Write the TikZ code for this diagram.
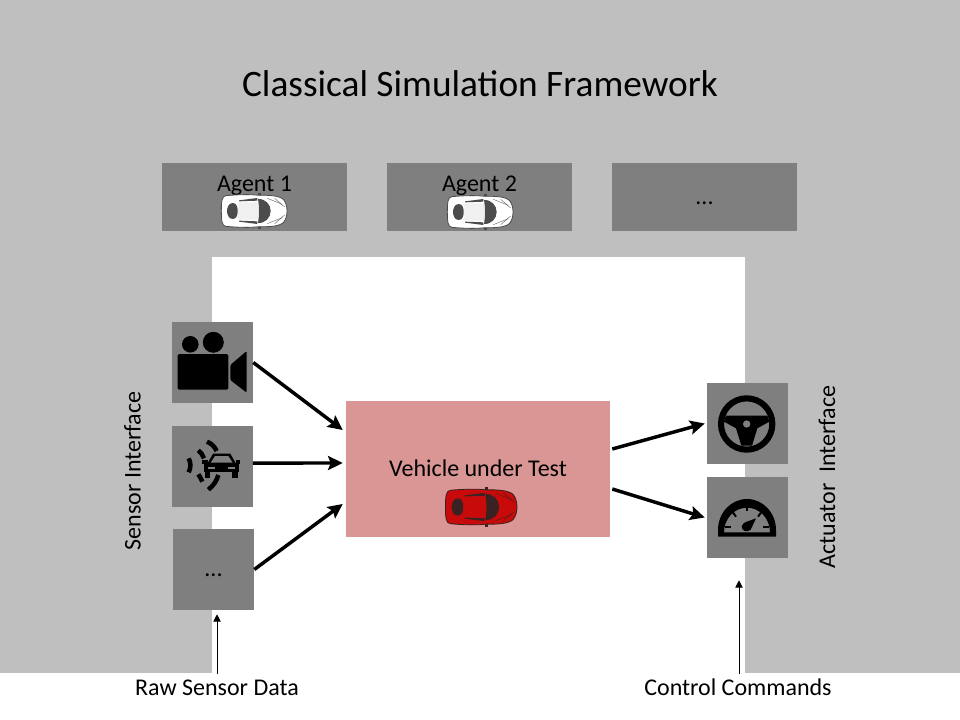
\documentclass[tikz,border=0pt]{standalone}
\usepackage{fontspec}
\setmainfont{Carlito}
\usetikzlibrary{arrows.meta}
\definecolor{bggray}{HTML}{BFBFBF}
\definecolor{boxgray}{HTML}{7F7F7F}
\definecolor{vutred}{HTML}{D99694}
\definecolor{cardark}{HTML}{3A2222}
\definecolor{carred}{HTML}{C80A0A}
\tikzset{
  sqbox/.style={fill=boxgray,minimum width=60.75pt,minimum height=60.75pt,inner sep=0pt},
  agentbox/.style={fill=boxgray,minimum width=138.75pt,minimum height=51pt,inner sep=0pt},
  lbl/.style={inner sep=0pt,font=\fontsize{18}{21}\selectfont},
  bigarrow/.style={line width=2.6pt,-{Stealth[length=11pt,width=10.5pt,inset=2pt]}},
  thinarrow/.style={line width=.75pt,-{Triangle[length=5.5pt,width=5.5pt]}},
  pics/car/.style n args={3}{code={
    \begin{scope}[x=.25pt,y=-.25pt]
      % mirrors
      \fill[#2] (12,-54) rectangle (20,-44);
      \fill[#2] (12,44) rectangle (20,54);
      % body
      \draw[fill=#1,draw=#2,line width=.6pt]
        (-85,-46) .. controls (-40,-50) and (-10,-50) .. (15,-47)
        .. controls (45,-48) and (75,-46) .. (88,-35)
        .. controls (97,-25) and (99,-10) .. (99,0)
        .. controls (99,10) and (97,25) .. (88,35)
        .. controls (75,46) and (45,48) .. (15,47)
        .. controls (-10,50) and (-40,50) .. (-85,46)
        .. controls (-96,44) and (-98,30) .. (-98,0)
        .. controls (-98,-30) and (-96,-44) .. (-85,-46) -- cycle;
      % roof
      \fill[#3] (-48,-26) -- (12,-26) .. controls (14,-10) and (14,10) .. (12,26) -- (-48,26) .. controls (-50,10) and (-50,-10) .. (-48,-26) -- cycle;
      % rear window
      \fill[#2] (-64,-24) .. controls (-76,-24) and (-81,-10) .. (-81,0)
        .. controls (-81,10) and (-76,24) .. (-64,24)
        .. controls (-52,24) and (-49,12) .. (-49,0)
        .. controls (-49,-12) and (-52,-24) .. (-64,-24) -- cycle;
      % windshield
      \fill[#2] (12,-36) .. controls (34,-37) and (50,-20) .. (50,0)
        .. controls (50,20) and (34,37) .. (12,36)
        .. controls (16,12) and (16,-12) .. (12,-36) -- cycle;
      % side glass
      \fill[#2] (-45,-32) -- (10,-39) -- (10,-31) -- (-45,-29) -- cycle;
      \fill[#2] (-45,32) -- (10,39) -- (10,31) -- (-45,29) -- cycle;
      % bonnet lines
      \draw[#2,line width=.25pt] (40,-38) -- (85,-20);
      \draw[#2,line width=.25pt] (40,38) -- (85,20);
      \draw[#2,line width=.25pt] (62,-38) -- (92,-12);
      \draw[#2,line width=.25pt] (62,38) -- (92,12);
    \end{scope}
  }}
}
\begin{document}
\begin{tikzpicture}[x=.75pt,y=-.75pt]
\useasboundingbox (0,0) rectangle (960,720);
\fill[white] (0,0) rectangle (960,720);
\fill[bggray] (0,0) rectangle (960,673);
\fill[white] (212,257) rectangle (745,673);

\node[inner sep=0pt,font=\fontsize{28}{32}\selectfont] (title) at (480,83.5) {Classical Simulation Framework};

\node[agentbox] (a1) at (254.5,197) {};
\node[lbl,anchor=base] (a1t) at (254.5,192) {Agent 1};
\pic at (254,211) {car={white}{black!70}{black!6}};
\node[agentbox] (a2) at (479.5,197) {};
\node[lbl,anchor=base] (a2t) at (479.5,192) {Agent 2};
\pic at (480,212) {car={white}{black!70}{black!6}};
\node[agentbox] (a3) at (704.5,197) {};
\node[lbl] (a3t) at (704.5,203.3) {...};

\node[sqbox] (cam) at (212.5,362.5) {};
\node[sqbox] (radar) at (212,466.5) {};
\node[sqbox] (dots) at (213.5,569.5) {};
\node[lbl] (dotst) at (213.5,575) {...};
\node[sqbox] (wheel) at (747.5,423.5) {};
\node[sqbox] (speedo) at (747.5,517.5) {};

\node[fill=vutred,minimum width=198pt,minimum height=102pt,inner sep=0pt] (vut) at (478,469) {};
\node[lbl] (vutt) at (478,468.5) {Vehicle under Test};
\pic[scale=1.09] at (481,507) {car={carred}{cardark}{carred}};

% camera icon
\fill (190.3,344.3) circle[radius=8.3];
\fill (213.3,342.3) circle[radius=10.5];
\fill[rounded corners=1pt] (177.7,354) rectangle (228.3,389.7);
\fill[rounded corners=1pt] (230.3,365) -- (246.7,351) -- (246.7,392.7) -- (230.3,380) -- cycle;

% radar icon
\begin{scope}[shift={(165,315)},x=.25pt,y=-.25pt]
  \fill (118,445) rectangle (222,472);
  \fill (125,450) -- (144,416) -- (196,416) -- (215,450) -- cycle;
  \fill (112,434) rectangle (128,446);
  \fill (212,434) rectangle (226,446);
  \fill (120,465) rectangle (136,488);
  \fill (202,465) rectangle (218,488);
  \fill[boxgray] (137,443) -- (150,423) -- (190,423) -- (203,443) -- cycle;
  \fill[boxgray] (130,456) rectangle (150,462);
  \fill[boxgray] (190,456) rectangle (210,462);
  \draw[line width=3.4pt] (126,380) .. controls (142,386) and (150,398) .. (155,408);
  \draw[line width=3.4pt] (100,406) .. controls (108,412) and (113,420) .. (117,430);
  \draw[line width=3.4pt] (71,430) .. controls (78,444) and (78,458) .. (71,472);
  \draw[line width=3.4pt] (100,478) .. controls (104,484) and (108,490) .. (112,500);
  \draw[line width=3.4pt] (130,524) .. controls (145,512) and (155,498) .. (160,480);
\end{scope}

% steering wheel icon
\begin{scope}[shift={(700,375)},x=.25pt,y=-.25pt]
  \draw[line width=4.6pt] (140,147) circle[radius=77];
  \fill (78,122) -- (202,122) -- (208,140) -- (172,160) -- (156,212) -- (124,212) -- (108,160) -- (72,140) -- cycle;
  \fill[boxgray] (140,147) circle[radius=11];
\end{scope}

% speedometer icon
\begin{scope}[shift={(700,375)},x=.25pt,y=-.25pt]
  \fill[even odd rule] (54,485) -- (54,465) arc[start angle=180,end angle=0,radius=87,y radius=-93] -- (228,485) -- cycle
    (72,472) arc[start angle=180,end angle=0,radius=69,y radius=-74] -- cycle;
  \draw[line width=1.5pt] (140,390) -- (140,408);
  \draw[line width=1.5pt] (97,410) -- (108,425);
  \draw[line width=1.5pt] (185,410) -- (174,425);
  \draw[line width=1.5pt] (75,456) -- (94,456);
  \draw[line width=1.5pt] (190,456) -- (208,456);
  \fill (168,430) -- (152,464) .. controls (142,474) and (124,468) .. (125,454) .. controls (126,446) and (135,442) .. (140,440) -- cycle;
\end{scope}

\node[lbl,rotate=90] (si) at (132.5,471) {Sensor Interface};
\node[lbl,rotate=90] (ai) at (827,477) {Actuator\ \ Interface};

\node[lbl,anchor=base] (raw) at (217,695.5) {Raw Sensor Data};
\node[lbl,anchor=base] (cc) at (738,695.5) {Control Commands};

\draw[bigarrow] (cam.east) -- ([shift={(-3,-39)}]vut.west);
\draw[bigarrow] ([yshift=2.6pt]radar.east) -- ([shift={(-3,-6)}]vut.west);
\draw[bigarrow] (dots.east) -- ([shift={(-3,35)}]vut.west);
\draw[bigarrow] ([shift={(2,-20)}]vut.east) -- ([xshift=-1.5pt]wheel.west);
\draw[bigarrow] ([shift={(2,20)}]vut.east) -- ([xshift=-1.5pt]speedo.west);

\coordinate (rawtop) at (217,674);
\coordinate (cctop) at (739,674);
\draw[thinarrow] (rawtop) -- ([shift={(3.5,4)}]dots.south);
\draw[thinarrow] (cctop) -- ([shift={(-8.5,22)}]speedo.south);
\end{tikzpicture}
\end{document}
